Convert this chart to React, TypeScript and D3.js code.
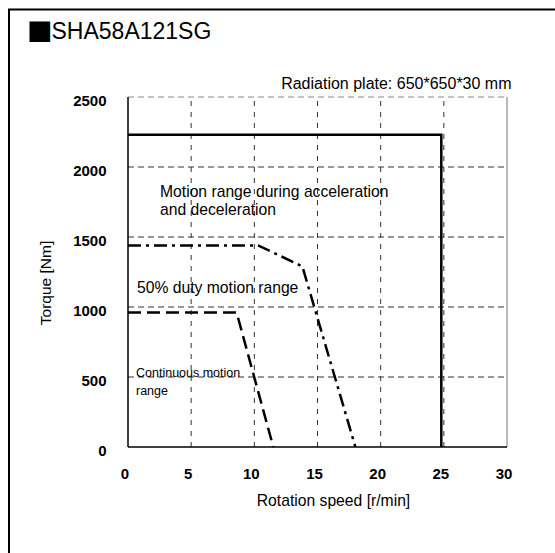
import * as d3 from "d3";

const speedTicks = [0, 5, 10, 15, 20, 25, 30];
const torqueTicks = [0, 500, 1000, 1500, 2000, 2500];

// Motion range during acceleration and deceleration
const accelSpeed = [0, 24.8, 24.8];
const accelTorque = [2230, 2230, 0];

// 50% duty motion range
const dutySpeed = [0, 10.3, 13.8, 18.0];
const dutyTorque = [1440, 1440, 1290, 0];

// Continuous motion range
const contSpeed = [0, 8.6, 11.5];
const contTorque = [960, 960, 0];

const W = 555;
const H = 553;
const font = "Arial, 'Liberation Sans', Helvetica, sans-serif";

export default function App() {
  const x = d3.scaleLinear().domain([0, 30]).range([128, 507]);
  const y = d3.scaleLinear().domain([0, 2500]).range([447, 97]);

  const line = d3
    .line<[number, number]>()
    .x((d) => x(d[0]))
    .y((d) => y(d[1]));

  const pts = (s: number[], t: number[]) =>
    s.map((v, i) => [v, t[i]] as [number, number]);

  return (
    <svg
      width={W}
      height={H}
      style={{ position: "absolute", left: 0, top: 0, background: "#fff" }}
      fontFamily={font}
    >
      {/* outer frame */}
      <path d={`M9,${H} V9.5 H${W}`} fill="none" stroke="#000" strokeWidth={2} />

      <text x={27} y={39} fontSize={23}>
        <tspan fontFamily="'DejaVu Sans'" fontSize={27}>
          ■
        </tspan>
        <tspan dx={-1}>SHA58A121SG</tspan>
      </text>
      <text x={511.5} y={88.5} fontSize={16} textAnchor="end">
        Radiation plate: 650*650*30 mm
      </text>

      {/* grid */}
      {torqueTicks.slice(1).map((t) => (
        <line
          key={"h" + t}
          x1={x(0)}
          x2={x(30)}
          y1={y(t)}
          y2={y(t)}
          stroke={t === 2500 ? "#888" : "#333"}
          strokeWidth={1}
          strokeDasharray="6,4"
        />
      ))}
      {speedTicks.slice(1, -1).map((s) => (
        <line
          key={"v" + s}
          x1={x(s)}
          x2={x(s)}
          y1={y(0)}
          y2={y(2500)}
          stroke="#333"
          strokeWidth={1}
          strokeDasharray="5,6"
        />
      ))}
      <line x1={x(30)} x2={x(30)} y1={y(0)} y2={y(2500)} stroke="#777" strokeWidth={1} />

      {/* axes */}
      <line x1={x(0)} x2={x(0)} y1={y(0)} y2={y(2500)} stroke="#000" strokeWidth={1.5} />
      <line x1={x(0)} x2={x(30)} y1={y(0)} y2={y(0)} stroke="#000" strokeWidth={1.5} />

      {/* curves */}
      <path
        d={line(pts(accelSpeed, accelTorque)) ?? ""}
        fill="none"
        stroke="#000"
        strokeWidth={2.5}
      />
      <path
        d={line(pts(dutySpeed, dutyTorque)) ?? ""}
        fill="none"
        stroke="#000"
        strokeWidth={2.5}
        strokeDasharray="13,5,3,5"
      />
      <path
        d={line(pts(contSpeed, contTorque)) ?? ""}
        fill="none"
        stroke="#000"
        strokeWidth={2.5}
        strokeDasharray="13,6"
      />

      {/* tick labels */}
      {torqueTicks.map((t) => (
        <text
          key={"yl" + t}
          x={106.5}
          y={y(t) + 9}
          fontSize={15}
          fontWeight="bold"
          textAnchor="end"
        >
          {t}
        </text>
      ))}
      {speedTicks.map((s) => (
        <text
          key={"xl" + s}
          x={x(s) - 3}
          y={479}
          fontSize={15}
          fontWeight="bold"
          textAnchor="middle"
        >
          {s}
        </text>
      ))}

      {/* annotations */}
      <text x={160} y={197} fontSize={15.7}>
        Motion range during acceleration
      </text>
      <text x={160} y={215} fontSize={15.7}>
        and deceleration
      </text>
      <text x={137} y={293} fontSize={15.7}>
        50% duty motion range
      </text>
      <text x={136} y={377} fontSize={12.5}>
        Continuous motion
      </text>
      <text x={136} y={395} fontSize={12.5}>
        range
      </text>

      {/* axis titles */}
      <text x={333.5} y={506} fontSize={15.7} textAnchor="middle">
        Rotation speed [r/min]
      </text>
      <text
        transform="translate(51,283) rotate(-90)"
        fontSize={15.5}
        textAnchor="middle"
      >
        Torque [Nm]
      </text>
    </svg>
  );
}
